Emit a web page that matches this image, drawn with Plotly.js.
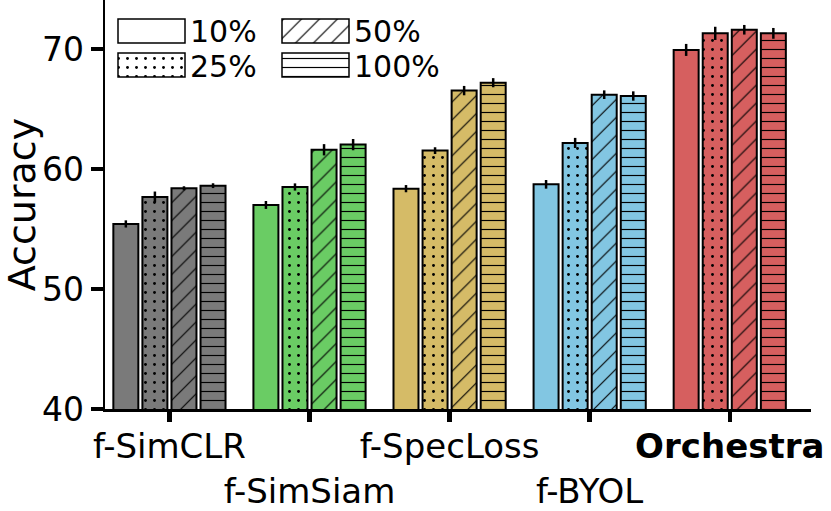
<!DOCTYPE html>
<html>
<head>
<meta charset="utf-8">
<script src="https://cdn.plot.ly/plotly-3.0.1.min.js"></script>
<style>html,body{margin:0;padding:0;background:#fff;}#chart{width:831px;height:511px;}</style>
</head>
<body>
<div id="chart"></div>
<script>
// ---- data ----
const methods = ["f-SimCLR", "f-SimSiam", "f-SpecLoss", "f-BYOL", "Orchestra"];
const methodLabels = ["f-SimCLR", "<br>f-SimSiam", "f-SpecLoss", "<br>f-BYOL", "<b>Orchestra</b>"];
const methodColors = ["#7a7a7a", "#6acc64", "#d5bb67", "#82c6e2", "#d65f5f"];
const fractions = ["10%", "25%", "50%", "100%"];
const acc10  = [55.42, 57.00, 58.36, 58.72, 69.92];
const acc25  = [57.67, 58.50, 61.53, 62.17, 71.30];
const acc50  = [58.39, 61.60, 66.53, 66.19, 71.60];
const acc100 = [58.61, 62.03, 67.19, 66.08, 71.30];
const err10  = [0.30, 0.33, 0.30, 0.36, 0.50];
const err25  = [0.45, 0.30, 0.28, 0.42, 0.55];
const err50  = [0.17, 0.47, 0.39, 0.36, 0.40];
const err100 = [0.20, 0.47, 0.38, 0.39, 0.45];
const yTicks = [40, 50, 60, 70];

// ---- styles ----
const seriesVals = [acc10, acc25, acc50, acc100];
const seriesErrs = [err10, err25, err50, err100];
const shapes = ["", ".", "/", "-"];
const psize = {"": 8, ".": 9, "/": 12.7, "-": 9};
const psol  = {"": 0.3, ".": 0.08, "/": 0.09, "-": 0.13};
const xpos = methods.map((m, i) => i);
const font = "DejaVu Sans, sans-serif";

// one trace per (fraction, method) so each bar keeps a single colour and a black pattern
const traces = [];
seriesVals.forEach((vals, k) => {
  methods.forEach((m, i) => {
    const marker = {color: methodColors[i], line: {color: "black", width: 2}};
    if (shapes[k]) {
      marker.pattern = {shape: shapes[k], fgcolor: "black", fgopacity: 1, bgcolor: methodColors[i],
                        size: psize[shapes[k]], solidity: psol[shapes[k]], fillmode: "replace"};
    }
    traces.push({
      type: "bar", name: fractions[k] + " " + m, offsetgroup: fractions[k],
      x: [xpos[i]], y: [vals[i]],
      marker: marker,
      error_y: {type: "data", array: [seriesErrs[k][i]], color: "black", thickness: 2.5, width: 0},
      showlegend: false, hoverinfo: "skip"
    });
  });
});

// ---- custom legend (large patterned swatches) on a pixel-coordinate overlay axis ----
const legCols = [118, 282];     // left edge of swatch (px)
const legRows = [31, 65];       // row centre (px)
const legTextRows = [31, 66.5]; // text centre (px)
const legX = [], legY = [], legTY = [];
fractions.forEach((f, k) => {
  const col = Math.floor(k / 2), row = k % 2;
  legX.push(legCols[col]); legY.push(legRows[row]); legTY.push(legTextRows[row]);
});
traces.push({
  type: "bar", orientation: "h", xaxis: "x2", yaxis: "y2",
  y: legY, base: legX, x: fractions.map(() => 67), width: fractions.map(() => 24),
  marker: {
    color: "white", line: {color: "black", width: 1.5},
    pattern: {shape: shapes, fgcolor: "black", fgopacity: 1, bgcolor: "white",
              size: shapes.map(s => psize[s]), solidity: shapes.map(s => psol[s]), fillmode: "replace"}
  },
  showlegend: false, hoverinfo: "skip"
});
const annotations = fractions.map((f, k) => ({
  xref: "x2", yref: "y2", x: legX[k] + 71, y: legTY[k],
  text: f, showarrow: false, xanchor: "left", yanchor: "middle",
  borderpad: 0,
  font: {family: font, size: 30, color: "black"}
}));

const layout = {
  width: 831, height: 511,
  margin: {l: 105, r: 20, t: 0, b: 102},
  paper_bgcolor: "white", plot_bgcolor: "white",
  barmode: "group", bargap: 0.17, bargroupgap: 0.14,
  showlegend: false,
  font: {family: font, color: "black"},
  xaxis: {
    range: [-0.46, 4.58], tickvals: xpos, ticktext: methodLabels, tickangle: 0,
    ticks: "outside", ticklen: 10, tickwidth: 4.5, tickcolor: "black",
    ticklabelstandoff: -4,
    showline: true, linewidth: 2.5, linecolor: "black",
    showgrid: false, zeroline: false,
    tickfont: {family: font, size: 34, color: "black"}
  },
  yaxis: {
    range: [40, 74.08], tickvals: yTicks,
    ticks: "outside", ticklen: 12, tickwidth: 4, tickcolor: "black",
    showline: true, linewidth: 2.5, linecolor: "black",
    showgrid: false, zeroline: false,
    tickfont: {family: font, size: 33, color: "black"},
    title: {text: "Accuracy", font: {family: font, size: 38, color: "black"}, standoff: 16}
  },
  xaxis2: {overlaying: "x", range: [105, 811], visible: false, fixedrange: true},
  yaxis2: {overlaying: "y", range: [409, 0], visible: false, fixedrange: true},
  annotations: annotations
};

Plotly.newPlot("chart", traces, layout, {staticPlot: true, displayModeBar: false});
</script>
</body>
</html>
